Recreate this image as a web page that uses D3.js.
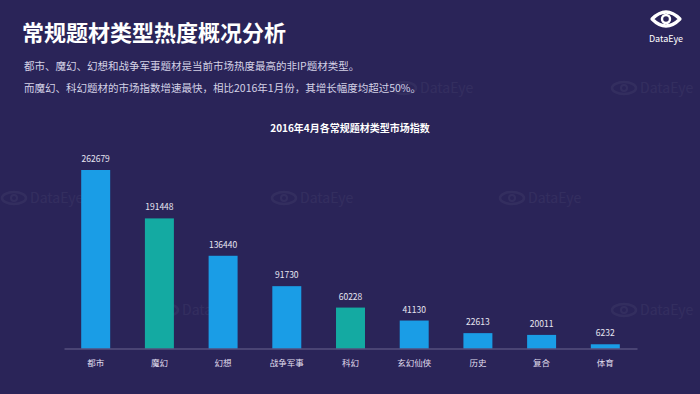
<!DOCTYPE html>
<html>
<head>
<meta charset="utf-8">
<script src="https://cdn.jsdelivr.net/npm/d3@7"></script>
<style>
  body { margin: 0; background: #2a2458; }
  text { font-family: "Noto Sans CJK SC", "Noto Sans", sans-serif; }
</style>
</head>
<body>
<div id="chart"></div>
<script>
// Chart data
var categories = ['都市', '魔幻', '幻想', '战争军事', '科幻', '玄幻仙侠', '历史', '复合', '体育']
var values = [262679, 191448, 136440, 91730, 60228, 41130, 22613, 20011, 6232]
// teal bars mark the fast growing genres
var highlighted = ['魔幻', '科幻']

var width = 700
var height = 394
var margin = { top: 170, right: 63, bottom: 45.5, left: 64 }

var svg = d3.select('#chart').append('svg')
  .attr('width', width)
  .attr('height', height)

svg.append('rect')
  .attr('width', width)
  .attr('height', height)
  .attr('fill', '#2a2458')

// Faint watermarks
var marks = [[392, 88], [612, 88], [2, 198], [272, 198], [500, 198], [154, 310], [612, 310]]
var wm = svg.selectAll('.wm')
  .data(marks)
  .enter().append('g')
  .attr('class', 'wm')
  .attr('transform', function (d) { return 'translate(' + d[0] + ',' + d[1] + ')' })
  .attr('opacity', 0.045)
wm.append('ellipse')
  .attr('cx', 12).attr('cy', 0).attr('rx', 12).attr('ry', 6)
  .attr('fill', 'none').attr('stroke', '#ffffff').attr('stroke-width', 2.5)
wm.append('circle')
  .attr('cx', 12).attr('cy', 0).attr('r', 3)
  .attr('fill', 'none').attr('stroke', '#ffffff').attr('stroke-width', 2)
wm.append('text')
  .attr('x', 28).attr('y', 5)
  .attr('fill', '#ffffff')
  .style('font-size', '14px')
  .text('DataEye')

// Header
svg.append('text')
  .attr('x', 22).attr('y', 41)
  .attr('fill', '#ffffff')
  .style('font-size', '22px')
  .style('font-weight', 'bold')
  .text('常规题材类型热度概况分析')

svg.append('text')
  .attr('x', 24).attr('y', 70)
  .attr('fill', '#d4d2e6')
  .style('font-size', '10.5px')
  .text('都市、魔幻、幻想和战争军事题材是当前市场热度最高的非IP题材类型。')

svg.append('text')
  .attr('x', 24).attr('y', 92)
  .attr('fill', '#d4d2e6')
  .style('font-size', '10.5px')
  .text('而魔幻、科幻题材的市场指数增速最快，相比2016年1月份，其增长幅度均超过50%。')

// Logo
var logo = svg.append('g').attr('transform', 'translate(666,19)')
logo.append('path')
  .attr('d', 'M-14,0 Q0,-14 14,0 Q0,14 -14,0 Z')
  .attr('fill', 'none').attr('stroke', '#ffffff').attr('stroke-width', 3.2)
  .attr('stroke-linejoin', 'round')
logo.append('circle')
  .attr('r', 4)
  .attr('fill', 'none').attr('stroke', '#ffffff').attr('stroke-width', 2.4)
logo.append('text')
  .attr('y', 23)
  .attr('text-anchor', 'middle')
  .attr('fill', '#ffffff')
  .style('font-size', '9px')
  .text('DataEye')

// Chart title
svg.append('text')
  .attr('x', 350).attr('y', 132)
  .attr('text-anchor', 'middle')
  .attr('fill', '#ffffff')
  .style('font-size', '10px')
  .style('font-weight', 'bold')
  .text('2016年4月各常规题材类型市场指数')

var x = d3.scaleBand()
  .domain(categories)
  .range([margin.left, width - margin.right])
  .paddingInner(0.545)
  .paddingOuter(0.27)

var y = d3.scaleLinear()
  .domain([0, d3.max(values)])
  .range([height - margin.bottom, margin.top])

var data = categories.map(function (c, i) { return { name: c, value: values[i] } })

svg.selectAll('.bar')
  .data(data)
  .enter().append('rect')
  .attr('class', 'bar')
  .attr('x', function (d) { return x(d.name) })
  .attr('y', function (d) { return y(d.value) })
  .attr('width', x.bandwidth())
  .attr('height', function (d) { return y(0) - y(d.value) })
  .attr('fill', function (d) { return highlighted.indexOf(d.name) >= 0 ? '#14aaa2' : '#1a9de6' })

svg.selectAll('.val')
  .data(data)
  .enter().append('text')
  .attr('class', 'val')
  .attr('x', function (d) { return x(d.name) + x.bandwidth() / 2 })
  .attr('y', function (d) { return y(d.value) - 8 })
  .attr('text-anchor', 'middle')
  .attr('fill', '#e8e6f2')
  .style('font-size', '8.5px')
  .text(function (d) { return d.value })

// X axis
var xAxis = svg.append('g')
  .attr('transform', 'translate(0,' + y(0) + ')')
  .call(d3.axisBottom(x).tickSize(0).tickPadding(11))
xAxis.select('.domain').attr('stroke', '#6a6590').attr('stroke-width', 1)
xAxis.selectAll('text')
  .attr('fill', '#e0deee')
  .style('font-size', '8.5px')
  .style('font-family', '"Noto Sans CJK SC", sans-serif')
</script>
</body>
</html>
